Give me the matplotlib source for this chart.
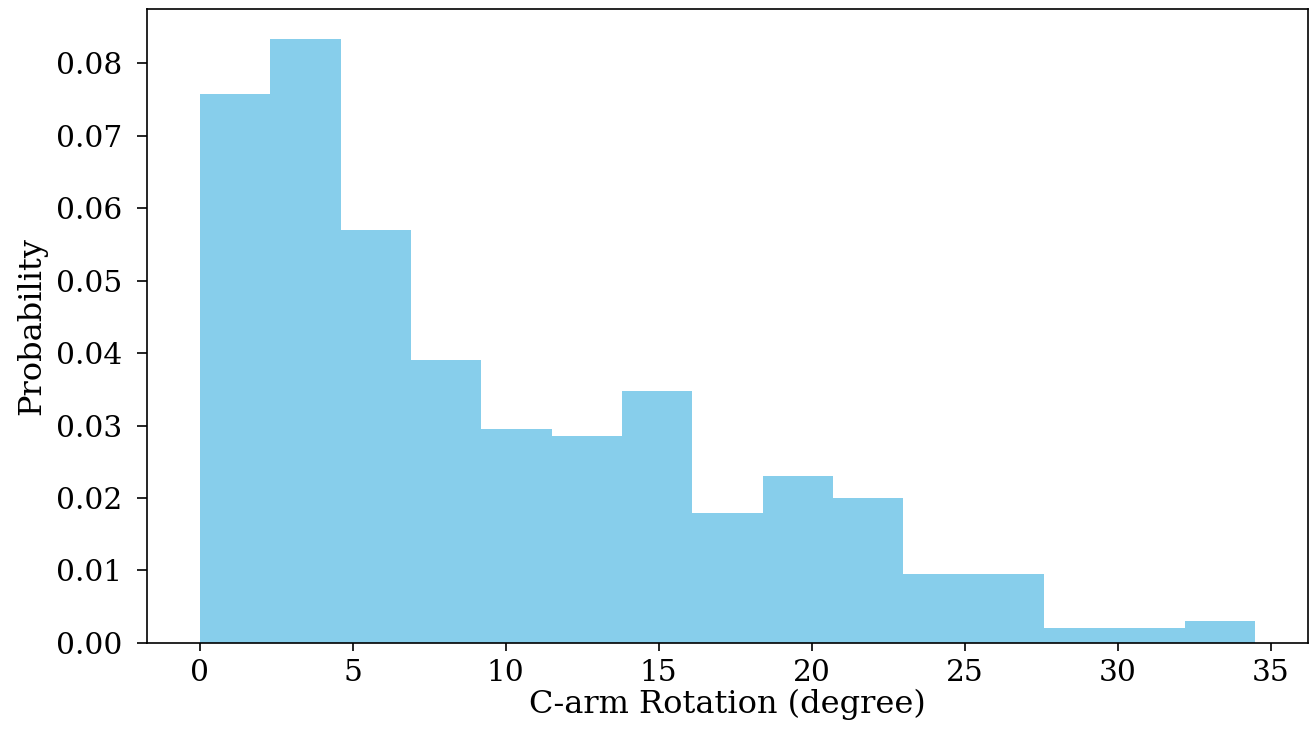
import numpy as np
import matplotlib.pyplot as plt

plt.rcParams['font.family'] = 'DejaVu Serif'

# histogram bin edges (degrees) and density heights
edges = [0.0, 2.3, 4.6, 6.9, 9.2, 11.5, 13.8, 16.1, 18.4, 20.7, 23.0,
         25.3, 27.6, 29.9, 32.2, 34.5]
density = [0.0757, 0.0833, 0.0570, 0.0390, 0.0295, 0.0285, 0.0347, 0.0179,
           0.0231, 0.0200, 0.0095, 0.0095, 0.0021, 0.0021, 0.0030]

xlabel = "C-arm Rotation (degree)"
ylabel = "Probability"

fig = plt.figure(figsize=(13.15, 7.36), dpi=100)
ax = fig.add_axes([0.1118, 0.1264, 0.8829, 0.8614])

centers = (np.array(edges[:-1]) + np.array(edges[1:])) / 2
ax.hist(centers, bins=edges, weights=density, color='skyblue')

ax.set_xlabel(xlabel, fontsize=23, labelpad=1)
ax.set_ylabel(ylabel, fontsize=23, labelpad=6)
ax.tick_params(labelsize=21.3, width=1.2)
ax.tick_params(axis='y', length=7, pad=11)
ax.tick_params(axis='x', length=5.5, pad=6)
for s in ax.spines.values():
    s.set_linewidth(1.2)
yt = np.arange(0, 0.081, 0.01)
ax.set_yticks(yt)
ax.set_yticklabels([f"{v:.2f}" for v in yt])

fig.savefig("out.png", dpi=100)
